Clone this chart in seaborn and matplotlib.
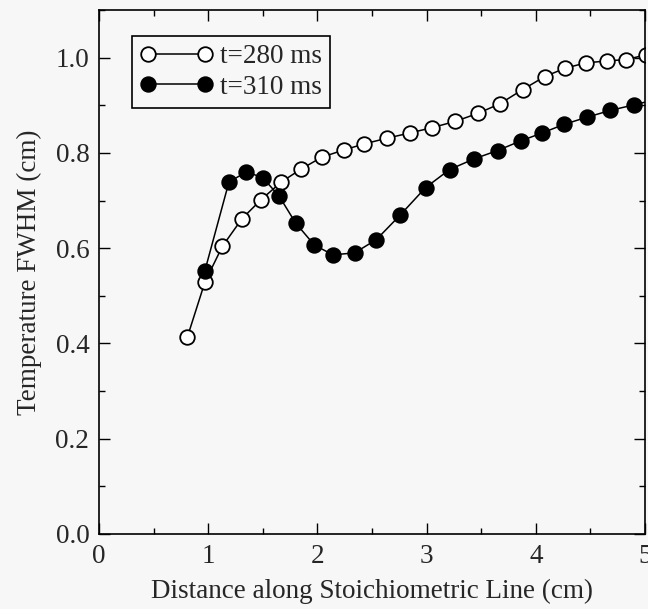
import matplotlib
matplotlib.use("Agg")
import matplotlib.pyplot as plt
from matplotlib.ticker import MultipleLocator
import pandas as pd
import seaborn as sns

# FWHM of the temperature profile along the stoichiometric line
dist_280 = [0.81, 0.97, 1.13, 1.31, 1.485, 1.67, 1.85, 2.04, 2.24, 2.43, 2.64, 2.85,
            3.05, 3.26, 3.47, 3.67, 3.88, 4.08, 4.27, 4.46, 4.65, 4.83, 5.01]
fwhm_280 = [0.414, 0.529, 0.604, 0.662, 0.702, 0.739, 0.766, 0.791, 0.806, 0.819, 0.831, 0.842,
            0.853, 0.866, 0.883, 0.903, 0.933, 0.960, 0.978, 0.989, 0.993, 0.996, 1.006]

dist_310 = [0.97, 1.19, 1.35, 1.50, 1.65, 1.80, 1.97, 2.14, 2.34, 2.54, 2.76, 2.99,
            3.21, 3.43, 3.65, 3.86, 4.06, 4.26, 4.47, 4.68, 4.90, 5.10]
fwhm_310 = [0.553, 0.739, 0.760, 0.748, 0.709, 0.653, 0.607, 0.586, 0.590, 0.618, 0.670, 0.727,
            0.765, 0.787, 0.805, 0.825, 0.842, 0.860, 0.875, 0.889, 0.901, 0.912]

labels = ["t=280 ms", "t=310 ms"]

df280 = pd.DataFrame({"x": dist_280, "y": fwhm_280})
df310 = pd.DataFrame({"x": dist_310, "y": fwhm_310})

sns.set_style("ticks")
plt.rcParams["font.family"] = ["Liberation Serif", "DejaVu Serif"]

FS = 19.5
bg = "#f7f7f7"
fig = plt.figure(figsize=(6.48, 6.09), dpi=100, facecolor=bg)
ax = fig.add_axes([0.1528, 0.1232, 0.8426, 0.8604])
ax.set_facecolor(bg)

common = dict(marker="o", markersize=10.5, markeredgecolor="black",
              markeredgewidth=1.3, color="black", linewidth=1.1)
sns.lineplot(data=df280, x="x", y="y", ax=ax, markerfacecolor="white",
             label=labels[0], sort=False, **common)
sns.lineplot(data=df310, x="x", y="y", ax=ax, markerfacecolor="black",
             label=labels[1], sort=False, **common)

ax.set_xlim(0, 5)
ax.set_ylim(0, 1.1)
ax.xaxis.set_major_locator(MultipleLocator(1))
ax.xaxis.set_minor_locator(MultipleLocator(0.5))
ax.yaxis.set_minor_locator(MultipleLocator(0.1))
ax.set_yticks([0.0, 0.2, 0.4, 0.6, 0.8, 1.0])
ax.set_yticklabels(["0.0", "0.2", "0.4", "0.6", "0.8", "1.0"])
ax.tick_params(which="both", direction="in", top=True, right=True,
               color="black", labelsize=FS, width=1.0)
ax.tick_params(which="major", length=8, pad=7)
ax.tick_params(which="minor", length=4)
for s in ax.spines.values():
    s.set_color("black")
    s.set_linewidth(1.2)

ax.set_xlabel("Distance along Stoichiometric Line (cm)", fontsize=FS, labelpad=7)
ax.set_ylabel("Temperature FWHM (cm)", fontsize=FS, labelpad=10)

leg = ax.legend(loc="upper left", bbox_to_anchor=(0.06, 0.95), numpoints=2,
                handlelength=2.7, fontsize=FS, frameon=True, fancybox=False,
                borderpad=0.3, handletextpad=0.25, labelspacing=0.2,
                borderaxespad=0)
leg.get_frame().set_edgecolor("black")
leg.get_frame().set_linewidth(1.2)
leg.get_frame().set_facecolor(bg)
leg.get_frame().set_alpha(1)

fig.savefig("out.png", dpi=100, facecolor=bg)
